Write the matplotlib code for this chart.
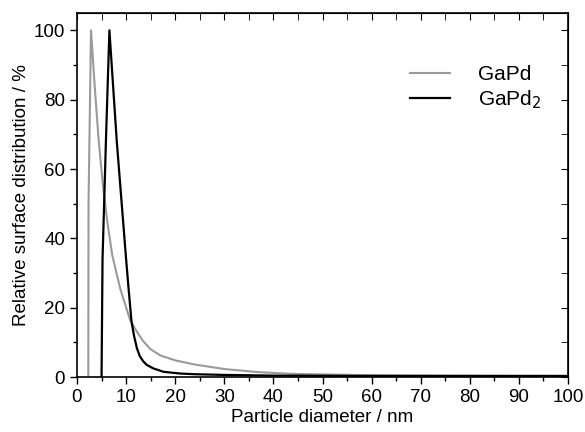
import matplotlib
matplotlib.use('Agg')
from matplotlib import pyplot as plt
from matplotlib.ticker import MultipleLocator

plt.rcParams['font.family'] = ['Liberation Sans', 'DejaVu Sans']

# GaPd (grey)
gapd_x = [2.3, 2.35, 2.85, 3.6, 4.4, 5.3, 6.2, 7.2, 8.8, 10.8, 12.0, 13.5, 15.0, 17, 20, 24, 30, 37, 44, 58, 75, 100]
gapd_y = [0, 50, 100, 84, 68.5, 55, 44.5, 35, 25.5, 16.5, 13.5, 10.3, 8.0, 6.2, 4.8, 3.6, 2.3, 1.4, 0.9, 0.55, 0.4, 0.3]

# GaPd2 (black)
gapd2_x = [5.0, 5.2, 5.9, 6.6, 8.1, 10.0, 10.5, 11.1, 11.6, 12.2, 12.8, 13.5, 14.2, 15.5, 17.6, 21, 24, 30, 40, 60, 100]
gapd2_y = [0, 34, 68.5, 100, 68, 34, 25.6, 16, 12, 8.3, 6.0, 4.5, 3.5, 2.5, 1.5, 1.0, 0.8, 0.6, 0.4, 0.3, 0.3]

fig = plt.figure(figsize=(5.85, 4.32), dpi=100)
ax = fig.add_axes([77/585, 1 - 377/432, (568-77)/585, (377-13)/432])

ax.plot(gapd_x, gapd_y, color='#9a9a9a', lw=1.5, label='GaPd')
ax.plot(gapd2_x, gapd2_y, color='black', lw=1.6, label='GaPd$_2$')

ax.set_xlim(0, 100)
ax.set_ylim(0, 105)
ax.xaxis.set_major_locator(MultipleLocator(10))
ax.xaxis.set_minor_locator(MultipleLocator(5))
ax.yaxis.set_major_locator(MultipleLocator(20))
ax.yaxis.set_minor_locator(MultipleLocator(10))
ax.tick_params(which='both', direction='out', labelsize=13.5, width=1)
ax.tick_params(which='major', length=5)
ax.tick_params(which='minor', length=3)
for s in ax.spines.values():
    s.set_linewidth(1.2)

# mirrored ticks pointing inward on top/right
top = ax.secondary_xaxis('top')
top.xaxis.set_major_locator(MultipleLocator(10))
top.xaxis.set_minor_locator(MultipleLocator(5))
top.tick_params(which='both', direction='in', length=5, labeltop=False)
right = ax.secondary_yaxis('right')
right.yaxis.set_major_locator(MultipleLocator(20))
right.yaxis.set_minor_locator(MultipleLocator(10))
right.tick_params(which='both', direction='in', length=5, labelright=False)

ax.set_xlabel('Particle diameter / nm', fontsize=13.5, labelpad=2)
ax.set_ylabel('Relative surface distribution / %', fontsize=13.5, labelpad=2.5)

ax.legend(loc='upper left', bbox_to_anchor=(410/585, 1 - 65/432), bbox_transform=fig.transFigure,
          frameon=False, fontsize=15, handlelength=1.9, handletextpad=1.35,
          labelspacing=0.2, borderpad=0, borderaxespad=0)

fig.savefig('out.png', dpi=100)
